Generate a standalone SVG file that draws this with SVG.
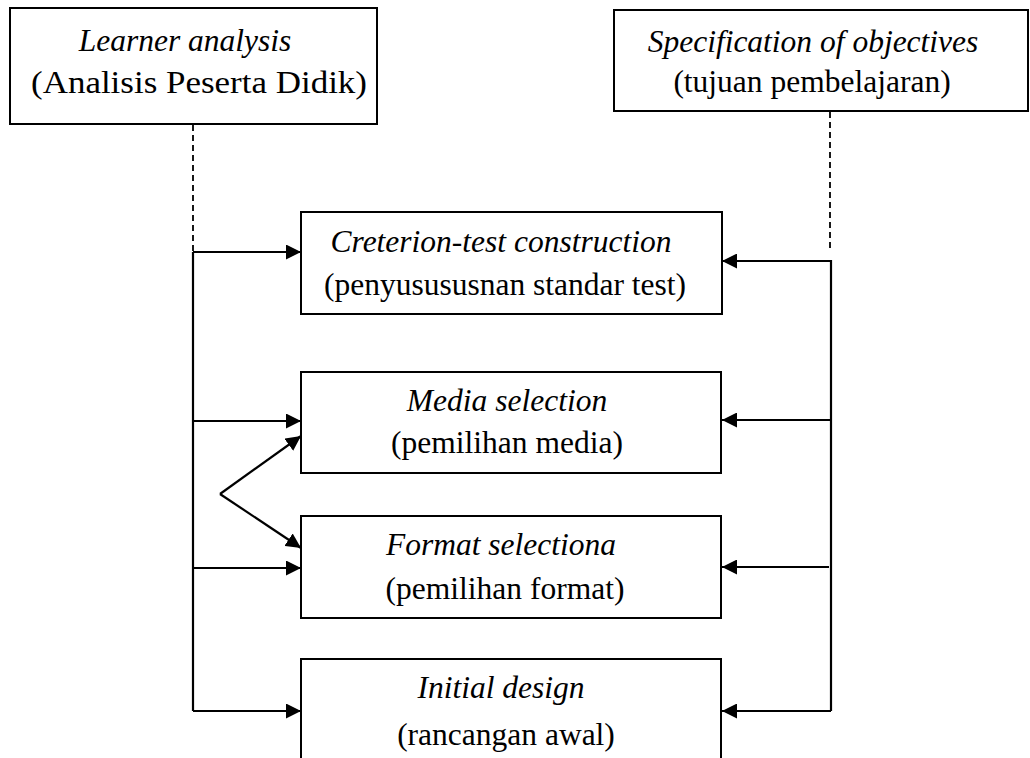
<svg xmlns="http://www.w3.org/2000/svg" width="1030" height="758" viewBox="0 0 1030 758">
  <style>
    .box { fill: #ffffff; stroke: #000000; stroke-width: 2; }
    .lbl { font-family: "Liberation Serif", "Times New Roman", serif; font-size: 31.5px; fill: #000000; text-anchor: middle; }
    .it { font-style: italic; }
    .wire { fill: none; stroke: #000000; stroke-width: 2.2; }
    .dash { fill: none; stroke: #000000; stroke-width: 1.8; stroke-dasharray: 6 4; }
    .arrow { marker-end: url(#head); }
  </style>
  <defs>
    <marker id="head" markerUnits="userSpaceOnUse" markerWidth="15" markerHeight="15" refX="15" refY="7.5" orient="auto">
      <path d="M0,0 L15,7.5 L0,15 Z" fill="#000000"/>
    </marker>
  </defs>

  <rect x="0" y="0" width="1030" height="758" fill="#ffffff"/>

  <!-- feed lines from the two analysis boxes -->
  <g id="connectors">
    <path class="dash" d="M193 125 V252"/>
    <path class="wire" d="M193 252 V711"/>
    <path class="wire arrow" d="M193 252 H301"/>
    <path class="wire arrow" d="M193 421 H301"/>
    <path class="wire arrow" d="M193 568 H301"/>
    <path class="wire arrow" d="M193 711 H301"/>
    <path class="wire arrow" d="M220 494 L301 436"/>
    <path class="wire arrow" d="M220 494 L301 548"/>

    <path class="dash" d="M830 112 V250"/>
    <path class="wire" d="M831 260 V711"/>
    <path class="wire arrow" d="M831 261 H722"/>
    <path class="wire arrow" d="M831 420 H722"/>
    <path class="wire arrow" d="M829 567 H722"/>
    <path class="wire arrow" d="M831 711 H722"/>
  </g>

  <g id="learner-analysis">
    <rect class="box" x="10" y="8" width="367" height="116"/>
    <text class="lbl it" x="185" y="51">Learner analysis</text>
    <text class="lbl" x="199" y="93" textLength="336" lengthAdjust="spacingAndGlyphs">(Analisis Peserta Didik)</text>
  </g>

  <g id="specification-of-objectives">
    <rect class="box" x="614" y="10" width="414" height="101"/>
    <text class="lbl it" x="813" y="52">Specification of objectives</text>
    <text class="lbl" x="812" y="92">(tujuan pembelajaran)</text>
  </g>

  <g id="criterion-test">
    <rect class="box" x="301" y="212" width="421" height="102"/>
    <text class="lbl it" x="501" y="252">Creterion-test construction</text>
    <text class="lbl" x="505" y="295">(penyusususnan standar test)</text>
  </g>

  <g id="media-selection">
    <rect class="box" x="301" y="372" width="420" height="101"/>
    <text class="lbl it" x="507" y="411">Media selection</text>
    <text class="lbl" x="507" y="453">(pemilihan media)</text>
  </g>

  <g id="format-selection">
    <rect class="box" x="301" y="516" width="420" height="102"/>
    <text class="lbl it" x="501" y="555">Format selectiona</text>
    <text class="lbl" x="505" y="599">(pemilihan format)</text>
  </g>

  <g id="initial-design">
    <rect class="box" x="301" y="659" width="420" height="120"/>
    <text class="lbl it" x="501" y="698">Initial design</text>
    <text class="lbl" x="506" y="745">(rancangan awal)</text>
  </g>
</svg>
